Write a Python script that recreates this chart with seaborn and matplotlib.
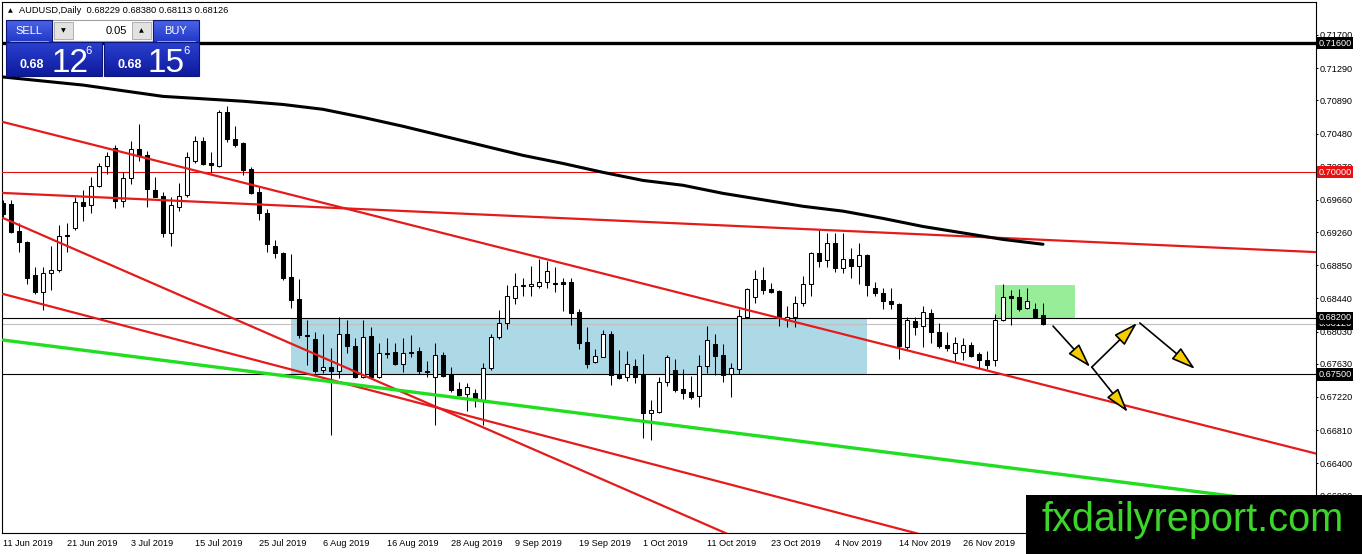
import numpy as np
import matplotlib
matplotlib.use("Agg")
import matplotlib.pyplot as plt
from matplotlib.patches import Rectangle
from matplotlib.colors import LinearSegmentedColormap
from matplotlib import font_manager
import seaborn as sns

# velas diarias AUDUSD, barra 0 = 11 Jun 2019
opens = [0.6962, 0.6961, 0.6927, 0.6914, 0.6873, 0.6852, 0.6875, 0.6879, 0.6922, 0.6931,
         0.6963, 0.6960, 0.6983, 0.7008, 0.7030, 0.6964, 0.6993, 0.7029, 0.7022, 0.6978,
         0.6971, 0.6925, 0.6957, 0.6972, 0.7014, 0.7039, 0.7012, 0.7008, 0.7075, 0.7041,
         0.7036, 0.7004, 0.6976, 0.6950, 0.6909, 0.6900, 0.6870, 0.6843, 0.6799, 0.6794,
         0.6755, 0.6759, 0.6754, 0.6800, 0.6785, 0.6747, 0.6797, 0.6747, 0.6776, 0.6778,
         0.6763, 0.6776, 0.6779, 0.6754, 0.6747, 0.6774, 0.6750, 0.6732, 0.6726, 0.6727,
         0.6718, 0.6758, 0.6796, 0.6814, 0.6844, 0.6859, 0.6859, 0.6859, 0.6864, 0.6863,
         0.6864, 0.6864, 0.6827, 0.6790, 0.6765, 0.6772, 0.6800, 0.6749, 0.6747, 0.6760,
         0.6749, 0.6702, 0.6703, 0.6740, 0.6755, 0.6732, 0.6728, 0.6723, 0.6760, 0.6788,
         0.6774, 0.6750, 0.6757, 0.6821, 0.6846, 0.6867, 0.6856, 0.6853, 0.6817, 0.6821,
         0.6838, 0.6862, 0.6900, 0.6892, 0.6913, 0.6882, 0.6893, 0.6884, 0.6898, 0.6857,
         0.6851, 0.6841, 0.6837, 0.6784, 0.6816, 0.6810, 0.6826, 0.6802, 0.6786, 0.6776,
         0.6778, 0.6786, 0.6775, 0.6768, 0.6768, 0.6817, 0.6847, 0.6846, 0.6832, 0.6831,
         0.68229]
highs = [0.6966, 0.6966, 0.6937, 0.6915, 0.6883, 0.6883, 0.6909, 0.6935, 0.6937, 0.6970,
         0.6978, 0.6994, 0.7012, 0.7025, 0.7034, 0.7000, 0.7039, 0.7060, 0.7026, 0.6994,
         0.6976, 0.6970, 0.6987, 0.7025, 0.7045, 0.7044, 0.7025, 0.7077, 0.7082, 0.7057,
         0.7038, 0.7007, 0.6982, 0.6955, 0.6916, 0.6901, 0.6899, 0.6868, 0.6817, 0.6802,
         0.6800, 0.6783, 0.6821, 0.6817, 0.6795, 0.6817, 0.6809, 0.6789, 0.6795, 0.6789,
         0.6795, 0.6799, 0.6784, 0.6767, 0.6789, 0.6778, 0.6759, 0.6740, 0.6739, 0.6732,
         0.6764, 0.6800, 0.6830, 0.6861, 0.6875, 0.6869, 0.6884, 0.6893, 0.6890, 0.6883,
         0.6869, 0.6869, 0.6831, 0.6809, 0.6781, 0.6805, 0.6804, 0.6780, 0.6779, 0.6769,
         0.6775, 0.6718, 0.6747, 0.6774, 0.6769, 0.6757, 0.6748, 0.6774, 0.6810, 0.6800,
         0.6788, 0.6764, 0.6831, 0.6857, 0.6879, 0.6883, 0.6863, 0.6854, 0.6834, 0.6847,
         0.6872, 0.6901, 0.6929, 0.6925, 0.6925, 0.6925, 0.6906, 0.6913, 0.6899, 0.6864,
         0.6857, 0.6857, 0.6838, 0.6821, 0.6821, 0.6834, 0.6831, 0.6814, 0.6802, 0.6796,
         0.6795, 0.6790, 0.6778, 0.6779, 0.6825, 0.6862, 0.6854, 0.6856, 0.6857, 0.6838,
         0.68380]
lows = [0.6944, 0.6925, 0.6901, 0.6862, 0.6850, 0.6830, 0.6854, 0.6877, 0.6901, 0.6929,
        0.6940, 0.6950, 0.6982, 0.6998, 0.6956, 0.6957, 0.6986, 0.7014, 0.6957, 0.6969,
        0.6920, 0.6909, 0.6952, 0.6970, 0.7012, 0.7009, 0.6999, 0.7007, 0.7038, 0.7031,
        0.6997, 0.6973, 0.6941, 0.6901, 0.6894, 0.6867, 0.6832, 0.6795, 0.6762, 0.6752,
        0.6752, 0.6675, 0.6745, 0.6776, 0.6745, 0.6745, 0.6745, 0.6745, 0.6770, 0.6762,
        0.6753, 0.6771, 0.6750, 0.6747, 0.6687, 0.6747, 0.6728, 0.6723, 0.6705, 0.6710,
        0.6687, 0.6755, 0.6794, 0.6806, 0.6837, 0.6847, 0.6847, 0.6857, 0.6857, 0.6852,
        0.6828, 0.6811, 0.6781, 0.6758, 0.6764, 0.6771, 0.6737, 0.6744, 0.6742, 0.6739,
        0.6671, 0.6669, 0.6702, 0.6736, 0.6728, 0.6720, 0.6719, 0.6710, 0.6752, 0.6749,
        0.6740, 0.6722, 0.6750, 0.6820, 0.6838, 0.6850, 0.6851, 0.6810, 0.6809, 0.6809,
        0.6834, 0.6847, 0.6883, 0.6883, 0.6877, 0.6875, 0.6869, 0.6862, 0.6847, 0.6847,
        0.6831, 0.6831, 0.6769, 0.6780, 0.6799, 0.6784, 0.6789, 0.6783, 0.6779, 0.6767,
        0.6768, 0.6771, 0.6758, 0.6757, 0.6760, 0.6816, 0.6811, 0.6828, 0.6831, 0.6820,
        0.68113]
closes = [0.6948, 0.6926, 0.6914, 0.6869, 0.6852, 0.6875, 0.6879, 0.6921, 0.6921, 0.6963,
          0.6958, 0.6983, 0.7008, 0.7020, 0.6964, 0.6993, 0.7029, 0.7020, 0.6979, 0.6970,
          0.6925, 0.6959, 0.6971, 0.7019, 0.7039, 0.7010, 0.7009, 0.7075, 0.7041, 0.7034,
          0.7003, 0.6974, 0.6950, 0.6911, 0.6900, 0.6869, 0.6842, 0.6799, 0.6798, 0.6754,
          0.6759, 0.6754, 0.6800, 0.6785, 0.6747, 0.6796, 0.6747, 0.6776, 0.6775, 0.6763,
          0.6776, 0.6778, 0.6754, 0.6753, 0.6774, 0.6748, 0.6731, 0.6724, 0.6734, 0.6718,
          0.6758, 0.6796, 0.6814, 0.6847, 0.6859, 0.6860, 0.6862, 0.6864, 0.6878, 0.6862,
          0.6862, 0.6826, 0.6789, 0.6763, 0.6773, 0.6800, 0.6749, 0.6745, 0.6763, 0.6747,
          0.6702, 0.6706, 0.6740, 0.6771, 0.6731, 0.6727, 0.6722, 0.6760, 0.6793, 0.6773,
          0.6749, 0.6758, 0.6822, 0.6856, 0.6868, 0.6854, 0.6852, 0.6821, 0.6821, 0.6838,
          0.6862, 0.6900, 0.6890, 0.6913, 0.6882, 0.6893, 0.6884, 0.6898, 0.6861, 0.6851,
          0.6841, 0.6837, 0.6785, 0.6817, 0.6809, 0.6827, 0.6802, 0.6785, 0.6783, 0.6789,
          0.6786, 0.6773, 0.6768, 0.6762, 0.6817, 0.6846, 0.6845, 0.6831, 0.6841, 0.6821,
          0.68126]

# media movil (negra gruesa), un valor cada 5 barras
ma_bars = list(range(0, 131, 5))
ma_vals = [0.7118, 0.7113, 0.7108, 0.7101, 0.7094, 0.7091, 0.7088, 0.7084, 0.7078, 0.7068,
           0.7057, 0.7045, 0.7033, 0.7021, 0.7011, 0.7000, 0.6990, 0.6984, 0.6974, 0.6966,
           0.6958, 0.6952, 0.6943, 0.6933, 0.6925, 0.6917, 0.6911]

# eje de fechas
date_bars = [0, 8, 16, 24, 32, 40, 48, 56, 64, 72, 80, 88, 96, 104, 112, 120, 128]
date_labels = ["11 Jun 2019", "21 Jun 2019", "3 Jul 2019", "15 Jul 2019", "25 Jul 2019",
               "6 Aug 2019", "16 Aug 2019", "28 Aug 2019", "9 Sep 2019", "19 Sep 2019",
               "1 Oct 2019", "11 Oct 2019", "23 Oct 2019", "4 Nov 2019", "14 Nov 2019",
               "26 Nov 2019", "6 Dec 2019"]

# eje de precios
price_ticks = [0.71700, 0.71290, 0.70890, 0.70480, 0.70070, 0.69660, 0.69260, 0.68850,
               0.68440, 0.68030, 0.67630, 0.67220, 0.66810, 0.66400, 0.66000]

# niveles horizontales
nivel_716 = 0.71600
nivel_700 = 0.70000
nivel_682 = 0.68200
nivel_675 = 0.67500
bid = 0.68126

# lineas de tendencia: (barra, precio) -> (barra, precio)
trend_red = [((0, 0.70623), (165, 0.66498)),
             ((0, 0.69745), (165, 0.69009)),
             ((0, 0.69435), (100, 0.65118)),
             ((0, 0.68495), (165, 0.64215))]
trend_green = ((0, 0.67925), (165, 0.65851))

# zonas
zona_azul = (36, 108, 0.6750, 0.6820)
zona_verde = (124, 134, 0.6820, 0.6860)

# flechas del escenario
flechas = [((131.25, 0.68098), (135.9, 0.67591)),
           ((136.1, 0.67590), (141.75, 0.68136)),
           ((142.1, 0.68136), (149.0, 0.67566)),
           ((136.1, 0.67590), (140.6, 0.67034))]

titulo = "AUDUSD,Daily  0.68229 0.68380 0.68113 0.68126"

# estilo
sns.set_style("white")
plt.rcParams["font.family"] = ["Liberation Sans", "DejaVu Sans"]
nombres = {f.name for f in font_manager.fontManager.ttflist}
narrow = "Liberation Sans Narrow" if "Liberation Sans Narrow" in nombres else "Liberation Sans"

W, H = 1362, 554
fig = plt.figure(figsize=(W / 100, H / 100), dpi=100)
ax = fig.add_axes([2 / W, 21 / H, 1314 / W, 531 / H])
ax.set_xlim(-0.125, 164.125)
ax.set_ylim(0.65537, 0.72108)

# zonas de fondo
ax.add_patch(Rectangle((zona_azul[0], zona_azul[2]), zona_azul[1] - zona_azul[0],
                       zona_azul[3] - zona_azul[2], fc="#add8e6", ec="none", zorder=1))
ax.add_patch(Rectangle((zona_verde[0], zona_verde[2]), zona_verde[1] - zona_verde[0],
                       zona_verde[3] - zona_verde[2], fc="#98ee98", ec="none", zorder=1))

# velas
x = np.arange(len(opens))
o = np.array(opens); c = np.array(closes)
ax.vlines(x, lows, highs, color="black", lw=0.75, zorder=4)
sube = c >= o
body_lo = np.minimum(o, c)
body_h = np.abs(c - o)
ax.bar(x[sube], body_h[sube], bottom=body_lo[sube], width=0.5, color="white",
       edgecolor="black", linewidth=0.75, zorder=5)
ax.bar(x[~sube], body_h[~sube], bottom=body_lo[~sube], width=0.5, color="black",
       edgecolor="black", linewidth=0.75, zorder=5)

# niveles horizontales
ax.axhline(nivel_716, color="black", lw=2.4, zorder=3)
ax.axhline(nivel_700, color="#e01010", lw=0.8, zorder=3)
ax.axhline(nivel_682, color="black", lw=0.8, zorder=3)
ax.axhline(nivel_675, color="black", lw=0.8, zorder=3)
ax.axhline(bid, color="#c0c0c0", lw=0.8, zorder=2)

# lineas de tendencia
for (x0, y0), (x1, y1) in trend_red:
    sns.lineplot(x=[x0, x1], y=[y0, y1], ax=ax, color="#e41b1b", lw=1.6, zorder=6)
(gx0, gy0), (gx1, gy1) = trend_green
sns.lineplot(x=[gx0, gx1], y=[gy0, gy1], ax=ax, color="#22dd22", lw=2.4, zorder=6)

# media movil
sns.lineplot(x=ma_bars, y=ma_vals, ax=ax, color="black", lw=2.2, zorder=7)

# flechas
for (x0, y0), (x1, y1) in flechas:
    ax.annotate("", xy=(x1, y1), xytext=(x0, y0),
                arrowprops=dict(arrowstyle="-|>,head_length=1.5,head_width=0.45",
                                mutation_scale=10, facecolor="#f7cc00",
                                edgecolor="black", lw=1.2, shrinkA=0, shrinkB=0),
                zorder=8)

ax.set_xlim(-0.125, 164.125)
ax.set_ylim(0.65537, 0.72108)

# ejes estilo MT4
for s in ax.spines.values():
    s.set_color("black")
    s.set_linewidth(0.8)
ax.yaxis.tick_right()
ax.set_yticks(price_ticks)
ax.set_yticklabels([f"{v:.5f}" for v in price_ticks])
ax.tick_params(axis="y", length=1.5, width=0.7, pad=1, labelsize=6.6, colors="black")
ax.set_xticks(date_bars)
ax.set_xticklabels(date_labels, ha="left")
ax.tick_params(axis="x", length=2.2, width=0.7, pad=2, labelsize=6.6, colors="black")
ax.set_xlabel("")
ax.set_ylabel("")

# etiquetas de niveles en el eje
ytr = ax.get_yaxis_transform()
for val, col in [(bid, "black"), (nivel_716, "black"), (nivel_700, "#e81010"),
                 (nivel_682, "black"), (nivel_675, "black")]:
    ax.text(1.0018, val, f"{val:.5f}", transform=ytr, ha="left", va="center",
            fontsize=6.6, color="white", clip_on=False, zorder=20,
            bbox=dict(boxstyle="square,pad=0.18", fc=col, ec="none"))

# capa superior: panel de ordenes, titulo y marca de agua (coordenadas en pixeles)
ov = fig.add_axes([0, 0, 1, 1])
ov.set_zorder(10)
ov.axis("off")


def panel(x0, y0, w, h, c_top, c_bot):
    grad = np.linspace(0, 1, 32)[:, None]
    cmap = LinearSegmentedColormap.from_list("g", [c_top, c_bot])
    ov.imshow(grad, extent=(x0, x0 + w, y0 + h, y0), cmap=cmap, aspect="auto",
              origin="upper", zorder=21)
    ov.add_patch(Rectangle((x0, y0), w, h, fill=False, ec="#0b1678", lw=0.8, zorder=22))


panel(6, 20, 46, 22, "#4a64e6", "#2238c8")
panel(153, 20, 46, 22, "#4a64e6", "#2238c8")
panel(6, 42, 96, 34, "#2a40d0", "#0e1a9c")
panel(104, 42, 95, 34, "#2a40d0", "#0e1a9c")
ov.plot([10, 48], [41, 41], color="#8fa0f0", lw=0.7, zorder=23)
ov.plot([157, 195], [41, 41], color="#8fa0f0", lw=0.7, zorder=23)

ov.add_patch(Rectangle((52, 20), 101, 21, fc="white", ec="#a0a0a0", lw=0.8, zorder=21))
ov.add_patch(Rectangle((54, 22), 19, 17, fc="#e2e2e2", ec="#b0b0b0", lw=0.7, zorder=22))
ov.add_patch(Rectangle((132, 22), 19, 17, fc="#e2e2e2", ec="#b0b0b0", lw=0.7, zorder=22))
ov.text(63.5, 31, "▼", fontsize=4.5, ha="center", va="center", color="black",
        family=["DejaVu Sans"], zorder=24)
ov.text(141.5, 31, "▲", fontsize=4.5, ha="center", va="center", color="black",
        family=["DejaVu Sans"], zorder=24)
ov.text(127, 31, "0.05", fontsize=8, ha="right", va="center", color="black", zorder=24)
ov.text(29, 31, "SELL", fontsize=8, ha="center", va="center", color="white", zorder=24)
ov.text(176, 31, "BUY", fontsize=8, ha="center", va="center", color="white", zorder=24)

ov.text(31.5, 65, "0.68", fontsize=9, fontweight="bold", ha="center", va="center",
        color="white", zorder=24)
ov.text(51, 71.5, "12", fontsize=24, family=[narrow], ha="left", va="baseline",
        color="white", zorder=24)
ov.text(88.5, 51, "6", fontsize=8, ha="center", va="center", color="white", zorder=24)
ov.text(130, 65, "0.68", fontsize=9, fontweight="bold", ha="center", va="center",
        color="white", zorder=24)
ov.text(147, 71.5, "15", fontsize=24, family=[narrow], ha="left", va="baseline",
        color="white", zorder=24)
ov.text(186, 51, "6", fontsize=8, ha="center", va="center", color="white", zorder=24)

# titulo del grafico
ov.text(10.5, 10.5, "▲", fontsize=4.5, ha="center", va="center", color="black",
        family=["DejaVu Sans"], zorder=24)
ov.text(19, 10.5, titulo, fontsize=6.7, ha="left", va="center", color="black", zorder=24)

# marca de agua
ov.add_patch(Rectangle((1026, 495), 336, 59, fc="black", ec="none", zorder=25))
ov.text(1042, 531, "fxdailyreport.com", fontsize=28.6, ha="left", va="baseline",
        color="#3cd52a", zorder=26)

ov.set_xlim(0, W)
ov.set_ylim(H, 0)

fig.savefig("out.png", dpi=100)
